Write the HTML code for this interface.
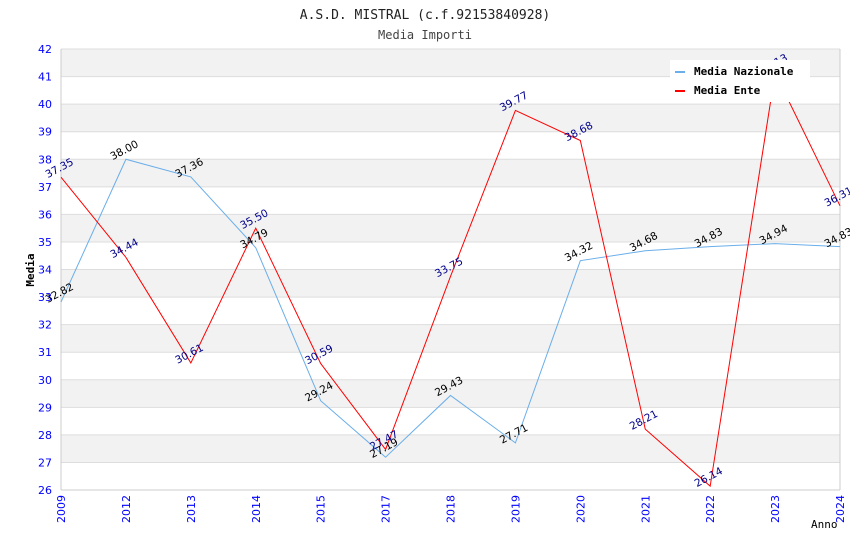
<!DOCTYPE html>
<html><head><meta charset="utf-8"><style>
body{margin:0;background:#fff}
svg text{font-family:"DejaVu Sans","Liberation Sans",sans-serif}
svg text.mono{font-family:"DejaVu Sans Mono","Liberation Mono",monospace}
</style></head><body>
<svg id="c" width="850" height="550" xmlns="http://www.w3.org/2000/svg">
<text class="mono" x="425" y="19" text-anchor="middle" font-size="13" fill="#222">A.S.D. MISTRAL (c.f.92153840928)</text>
<text class="mono" x="425" y="39" text-anchor="middle" font-size="12" fill="#444">Media Importi</text>
<g id="bands"></g><g id="axes"></g><g id="lines"></g><g id="labels"></g>
<g>
<rect x="670" y="60" width="140" height="42" fill="#fff"/>
<rect x="675" y="71" width="10" height="2" fill="#6aaeea"/>
<text class="mono" x="694" y="75" font-size="11" font-weight="bold" fill="#000">Media Nazionale</text>
<rect x="675" y="90" width="10" height="2" fill="#f00"/>
<text class="mono" x="694" y="94" font-size="11" font-weight="bold" fill="#000">Media Ente</text>
</g>
<text class="mono" x="34" y="270" font-size="11" font-weight="bold" transform="rotate(-90 34 270)" text-anchor="middle">Media</text>
<text class="mono" x="811" y="528" font-size="11">Anno</text>
</svg>
<script>
const years=["2009","2012","2013","2014","2015","2017","2018","2019","2020","2021","2022","2023","2024"];
const nazionale=[32.82,38.00,37.36,34.79,29.24,27.19,29.43,27.71,34.32,34.68,34.83,34.94,34.83];
const ente=[37.35,34.44,30.61,35.50,30.59,27.47,33.75,39.77,38.68,28.21,26.14,41.13,36.31];
const yTicks=[26,27,28,29,30,31,32,33,34,35,36,37,38,39,40,41,42];
const NS="http://www.w3.org/2000/svg";
const X0=61,X1=840,Y0=490,Y1=49,ymin=26,ymax=42;
const xs=i=>X0+(X1-X0)*i/(years.length-1);
const ys=v=>Y0-(v-ymin)/(ymax-ymin)*(Y0-Y1);
function mk(t,a,p){const e=document.createElementNS(NS,t);for(const k in a)e.setAttribute(k,a[k]);p.appendChild(e);return e;}
const bands=document.getElementById('bands'),axes=document.getElementById('axes'),lines=document.getElementById('lines'),labels=document.getElementById('labels');
for(let v=ymin;v<ymax;v++){
  const r=mk('rect',{x:X0,y:ys(v+1),width:X1-X0,height:ys(v)-ys(v+1),fill:(v%2===1)?'#f2f2f2':'#fff'},bands);
  
  
}
yTicks.forEach(v=>{
  const l=mk('line',{x1:X0,x2:X1,y1:ys(v),y2:ys(v),stroke:'#ddd'},axes);
  
  
  const t=mk('text',{x:X0-9,y:ys(v)+4,'text-anchor':'end','font-size':11,fill:'#00f'},axes);
  t.textContent=v;
  
  
});
mk('line',{x1:X0,x2:X0,y1:Y1,y2:Y0,stroke:'#ccc'},axes);
mk('line',{x1:X1,x2:X1,y1:Y1,y2:Y0,stroke:'#ccc'},axes);
mk('line',{x1:X0,x2:X1,y1:Y0,y2:Y0,stroke:'#ccc'},axes);
years.forEach((y,i)=>{
  const t=mk('text',{x:xs(i)+4,y:Y0+5,'text-anchor':'end','font-size':11,fill:'#00f',transform:`rotate(-90 ${xs(i)+4} ${Y0+5})`},axes);
  t.textContent=y;
  
  
});
function series(vals,color,lc,name){
  const p=mk('polyline',{points:vals.map((v,i)=>xs(i)+','+ys(v)).join(' '),fill:'none',stroke:color,'stroke-width':1},lines);
  
  
  vals.forEach((v,i)=>{
    const x=xs(i),y=ys(v)-6;
    const t=mk('text',{x:x,y:y,'text-anchor':'middle','font-size':10.5,fill:lc,transform:`rotate(-28 ${x} ${y})`},labels);
    t.textContent=v.toFixed(2);
    
    
  });
}
series(nazionale,'#6aaeea','#000','nazionale');
series(ente,'#f00','#00008b','ente');
</script>
</body></html>
